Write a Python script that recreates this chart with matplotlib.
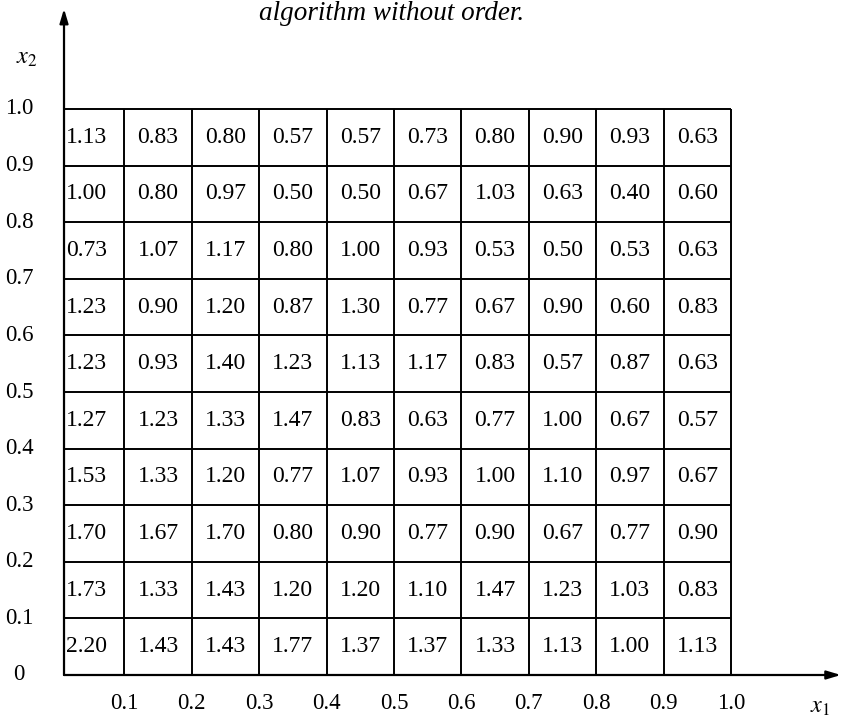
import matplotlib
matplotlib.use("Agg")
import matplotlib.pyplot as plt

plt.rcParams["font.family"] = ["Liberation Serif", "DejaVu Serif"]
plt.rcParams["mathtext.fontset"] = "stix"

title = "algorithm without order."
x_ticks = [0.1, 0.2, 0.3, 0.4, 0.5, 0.6, 0.7, 0.8, 0.9, 1.0]
y_ticks = [0.0, 0.1, 0.2, 0.3, 0.4, 0.5, 0.6, 0.7, 0.8, 0.9, 1.0]
y_tick_labels = ["0", "0.1", "0.2", "0.3", "0.4", "0.5", "0.6", "0.7", "0.8", "0.9", "1.0"]

# Cell values, one list per row of the unit square, from x2 = 0.9-1.0 down to 0-0.1;
# each row runs left to right over x1 = 0-0.1 ... 0.9-1.0
cell_values = [
    [1.13, 0.83, 0.80, 0.57, 0.57, 0.73, 0.80, 0.90, 0.93, 0.63],
    [1.00, 0.80, 0.97, 0.50, 0.50, 0.67, 1.03, 0.63, 0.40, 0.60],
    [0.73, 1.07, 1.17, 0.80, 1.00, 0.93, 0.53, 0.50, 0.53, 0.63],
    [1.23, 0.90, 1.20, 0.87, 1.30, 0.77, 0.67, 0.90, 0.60, 0.83],
    [1.23, 0.93, 1.40, 1.23, 1.13, 1.17, 0.83, 0.57, 0.87, 0.63],
    [1.27, 1.23, 1.33, 1.47, 0.83, 0.63, 0.77, 1.00, 0.67, 0.57],
    [1.53, 1.33, 1.20, 0.77, 1.07, 0.93, 1.00, 1.10, 0.97, 0.67],
    [1.70, 1.67, 1.70, 0.80, 0.90, 0.77, 0.90, 0.67, 0.77, 0.90],
    [1.73, 1.33, 1.43, 1.20, 1.20, 1.10, 1.47, 1.23, 1.03, 0.83],
    [2.20, 1.43, 1.43, 1.77, 1.37, 1.37, 1.33, 1.13, 1.00, 1.13],
]

fig = plt.figure(figsize=(8.42, 7.17), dpi=100)
ax = fig.add_axes([57 / 842, 42 / 717, 674 / 842, 566 / 717])
ax.set_xlim(0, 1)
ax.set_ylim(0, 1)
ax.axis("off")

axis_x = 0.0104          # where the vertical axis is drawn
x_end, y_end = 1.163, 1.177
grid_lw, axis_lw = 1.4, 1.6
fs_cell, fs_tick = 17, 16.5

# axes with arrow heads
arrow = dict(arrowstyle="-|>,head_length=0.6,head_width=0.18", lw=axis_lw,
             color="black", mutation_scale=14, shrinkA=0, shrinkB=0)
ax.annotate("", xy=(x_end, 0), xytext=(axis_x, 0), xycoords="data",
            arrowprops=arrow, annotation_clip=False)
ax.annotate("", xy=(axis_x, y_end), xytext=(axis_x, 0), xycoords="data",
            arrowprops=arrow, annotation_clip=False)

# cell grid
n_rows = len(cell_values)
n_cols = len(cell_values[0])
for yv in y_ticks[1:]:
    ax.plot([axis_x, 1.0], [yv, yv], color="black", lw=grid_lw,
            solid_capstyle="butt", clip_on=False)
for xv in x_ticks:
    ax.plot([xv, xv], [0, 1.0], color="black", lw=grid_lw,
            solid_capstyle="butt", clip_on=False)

# cell values
for r, row in enumerate(cell_values):
    yc = (n_rows - r - 0.5) / n_rows
    for c, val in enumerate(row):
        xc = (c + 0.5) / n_cols
        if c == 0:
            xc -= 0.006
        ax.text(xc, yc, f"{val:.2f}", ha="center", va="center",
                fontsize=fs_cell, color="black", clip_on=False)

# tick labels
for xv in x_ticks:
    ax.text(xv, -0.0495, f"{xv:.1f}", ha="center", va="center",
            fontsize=fs_tick, clip_on=False)
for yv, lab in zip(y_ticks, y_tick_labels):
    ax.text(-0.0564, yv, lab, ha="center", va="center",
            fontsize=fs_tick, clip_on=False)

# axis names
ax.text(1.132, -0.057, "$x_1$", ha="center", va="center", fontsize=fs_tick + 1,
        clip_on=False)
ax.text(-0.0445, 1.09, "$x_2$", ha="center", va="center", fontsize=fs_tick + 1,
        clip_on=False)

fig.text(392 / 842, 1 - 20 / 717, title, ha="center", va="baseline",
         fontsize=19.5, style="italic")

fig.savefig("out.png", dpi=100, facecolor="white")
